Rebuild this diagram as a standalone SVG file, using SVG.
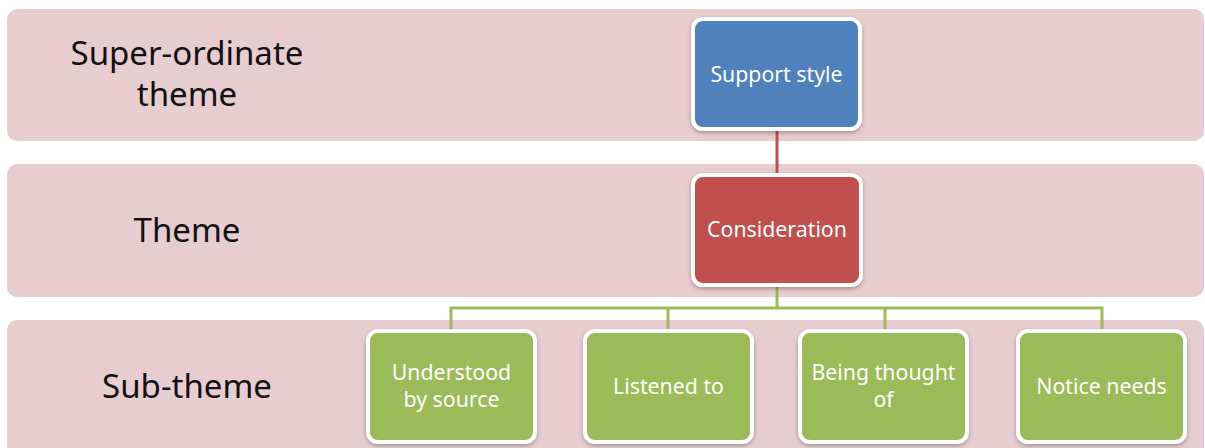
<svg xmlns="http://www.w3.org/2000/svg" width="1205" height="448" viewBox="0 0 1205 448">
<defs>
<filter id="sh" x="-10%" y="-10%" width="120%" height="125%">
<feDropShadow dx="0" dy="2" stdDeviation="2" flood-color="#000" flood-opacity="0.3"/>
</filter>
<style>
.band{fill:#e8cdd0;}
.lbl{font-family:"Noto Sans","Open Sans","Liberation Sans",sans-serif;font-size:33px;fill:#111;text-anchor:middle;}
.node rect{stroke:#fff;stroke-width:4;filter:url(#sh);}
.node text{font-family:"Noto Sans","Open Sans","Liberation Sans",sans-serif;font-size:21.3px;fill:#fff;text-anchor:middle;}
.blue{fill:#4f81bd;}
.red{fill:#c0504d;}
.green{fill:#9bbb59;}
.conn{fill:none;stroke-width:3;}
</style>
</defs>
<rect width="1205" height="448" fill="#fff"/>
<g id="band-super">
<rect class="band" x="7" y="9" width="1197" height="132" rx="10"/>
<text class="lbl" x="187" y="65">Super-ordinate</text>
<text class="lbl" x="187" y="106">theme</text>
</g>
<g id="band-theme">
<rect class="band" x="7" y="164" width="1197" height="133" rx="10"/>
<text class="lbl" x="187" y="242">Theme</text>
</g>
<g id="band-sub">
<rect class="band" x="7" y="320" width="1197" height="140" rx="10"/>
<text class="lbl" x="187" y="398">Sub-theme</text>
</g>
<g id="connectors">
<line class="conn" stroke="#c0504d" x1="777" y1="129" x2="777" y2="175"/>
<polyline class="conn" stroke="#9bbb59" points="777,285 777,308"/>
<polyline class="conn" stroke="#9bbb59" points="451,331 451,308 1102,308 1102,331"/>
<line class="conn" stroke="#9bbb59" x1="668" y1="308" x2="668" y2="331"/>
<line class="conn" stroke="#9bbb59" x1="885" y1="308" x2="885" y2="331"/>
</g>
<g id="node-support" class="node">
<rect class="blue" x="693" y="19" width="167" height="110" rx="10"/>
<text x="776.5" y="82">Support style</text>
</g>
<g id="node-consideration" class="node">
<rect class="red" x="693" y="175" width="168" height="110" rx="10"/>
<text x="777" y="237">Consideration</text>
</g>
<g id="node-understood" class="node">
<rect class="green" x="368" y="331" width="167" height="111" rx="10"/>
<text x="451.5" y="380">Understood</text>
<text x="451.5" y="407">by source</text>
</g>
<g id="node-listened" class="node">
<rect class="green" x="585" y="331" width="167" height="111" rx="10"/>
<text x="668.5" y="394">Listened to</text>
</g>
<g id="node-thought" class="node">
<rect class="green" x="800" y="331" width="167" height="111" rx="10"/>
<text x="883.5" y="380">Being thought</text>
<text x="883.5" y="407">of</text>
</g>
<g id="node-notice" class="node">
<rect class="green" x="1018" y="331" width="167" height="111" rx="10"/>
<text x="1101.5" y="394">Notice needs</text>
</g>
</svg>
